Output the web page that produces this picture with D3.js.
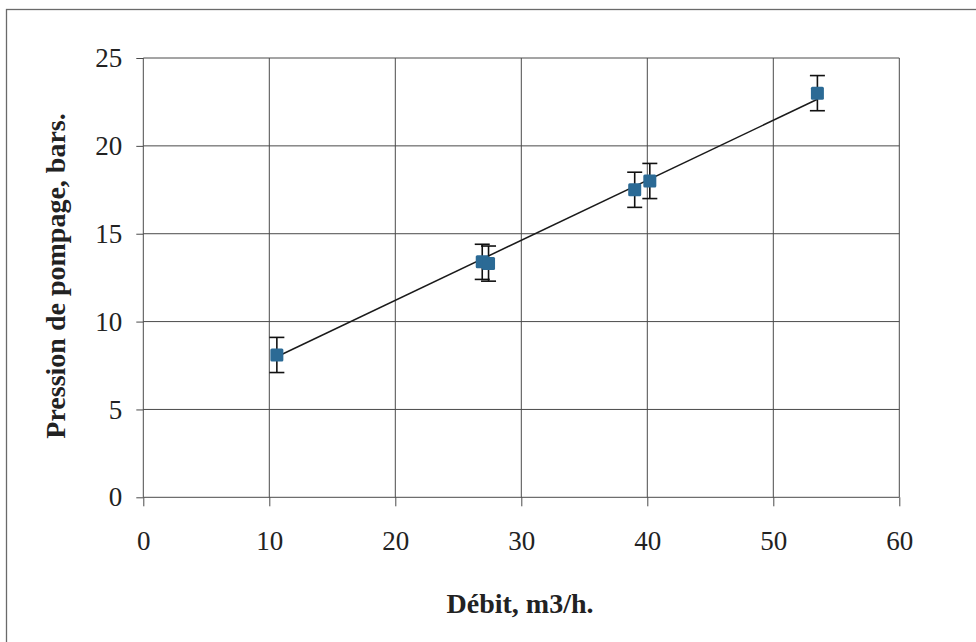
<!DOCTYPE html>
<html>
<head>
<meta charset="utf-8">
<script src="https://cdn.jsdelivr.net/npm/d3@7"></script>
<style>
  html, body { margin: 0; padding: 0; background: #fff; }
  svg { display: block; }
  text { font-family: "Liberation Serif", "Times New Roman", serif; fill: #222; }
</style>
</head>
<body>
<svg id="chart" width="976" height="642"></svg>
<script>
// Data
const debit = [10.6, 26.9, 27.4, 39.0, 40.2, 53.5];          // m3/h
const pression = [8.1, 13.4, 13.3, 17.5, 18.0, 23.0];        // bars
const erreur = [1.0, 1.0, 1.0, 1.0, 1.0, 1.0];               // error bar half-height
const trendX = [10.6, 53.5];
const trendY = [8.0, 22.65];
const xTicks = [0, 10, 20, 30, 40, 50, 60];
const yTicks = [0, 5, 10, 15, 20, 25];
const xTitle = "Débit, m3/h.";
const yTitle = "Pression de pompage, bars.";

const svg = d3.select("#chart");
const plot = { left: 143.3, right: 899.3, top: 58, bottom: 497.3 };

const x = d3.scaleLinear().domain([0, 60]).range([plot.left, plot.right]);
const y = d3.scaleLinear().domain([0, 25]).range([plot.bottom, plot.top]);

// outer frame (extends beyond the visible area on right/bottom)
svg.append("rect")
  .attr("x", 6.5).attr("y", 9.5).attr("width", 1000).attr("height", 1000)
  .attr("fill", "none").attr("stroke", "#6a6a6a").attr("stroke-width", 1.3);

const gridColor = "#4a4a4a";

// gridlines
svg.append("g").selectAll("line.v").data(xTicks.slice(1)).join("line")
  .attr("x1", d => x(d)).attr("x2", d => x(d))
  .attr("y1", plot.top).attr("y2", plot.bottom)
  .attr("stroke", gridColor).attr("stroke-width", 1);
svg.append("g").selectAll("line.h").data(yTicks.slice(1)).join("line")
  .attr("x1", plot.left).attr("x2", plot.right)
  .attr("y1", d => y(d)).attr("y2", d => y(d))
  .attr("stroke", gridColor).attr("stroke-width", 1);

// axes
const xAxis = d3.axisBottom(x).tickValues(xTicks).tickSize(9).tickPadding(25).tickFormat(d3.format("d"));
const yAxis = d3.axisLeft(y).tickValues(yTicks).tickSize(7).tickPadding(14).tickFormat(d3.format("d"));

const gx = svg.append("g").attr("transform", `translate(0,${plot.bottom})`).call(xAxis);
const gy = svg.append("g").attr("transform", `translate(${plot.left},0)`).call(yAxis);
[gx, gy].forEach(g => {
  g.select(".domain").attr("stroke", gridColor).attr("stroke-width", 1);
  g.selectAll(".tick line").attr("stroke", gridColor).attr("stroke-width", 1);
  g.selectAll(".tick text")
    .style("font-family", '"Liberation Serif", "Times New Roman", serif')
    .style("font-size", "27px").attr("fill", "#222");
});
gx.select(".domain").attr("d", `M${plot.left},0H${plot.right}`);
gy.select(".domain").attr("d", `M0,${plot.bottom}V${plot.top}`);

// trend line
svg.append("path")
  .datum(trendX.map((d, i) => [d, trendY[i]]))
  .attr("d", d3.line().x(d => x(d[0])).y(d => y(d[1])))
  .attr("fill", "none").attr("stroke", "#1a1a1a").attr("stroke-width", 1.5);

// error bars
const pts = debit.map((d, i) => ({ x: d, y: pression[i], e: erreur[i] }));
const eb = svg.append("g").selectAll("g").data(pts).join("g");
eb.append("line")
  .attr("x1", d => x(d.x)).attr("x2", d => x(d.x))
  .attr("y1", d => y(d.y + d.e)).attr("y2", d => y(d.y - d.e))
  .attr("stroke", "#111").attr("stroke-width", 1.6);
eb.append("line")
  .attr("x1", d => x(d.x) - 7.5).attr("x2", d => x(d.x) + 7.5)
  .attr("y1", d => y(d.y + d.e)).attr("y2", d => y(d.y + d.e))
  .attr("stroke", "#111").attr("stroke-width", 1.6);
eb.append("line")
  .attr("x1", d => x(d.x) - 7.5).attr("x2", d => x(d.x) + 7.5)
  .attr("y1", d => y(d.y - d.e)).attr("y2", d => y(d.y - d.e))
  .attr("stroke", "#111").attr("stroke-width", 1.6);

// markers
svg.append("g").selectAll("rect").data(pts).join("rect")
  .attr("x", d => x(d.x) - 6.5).attr("y", d => y(d.y) - 6.5)
  .attr("width", 13).attr("height", 13).attr("rx", 1.5)
  .attr("fill", "#2b6a95");

// axis titles
svg.append("text")
  .attr("x", 520).attr("y", 613)
  .attr("text-anchor", "middle")
  .style("font-size", "28px").style("font-weight", "bold")
  .text(xTitle);
svg.append("text")
  .attr("transform", `translate(65,276) rotate(-90)`)
  .attr("text-anchor", "middle")
  .style("font-size", "28px").style("font-weight", "bold")
  .text(yTitle);
</script>
</body>
</html>
